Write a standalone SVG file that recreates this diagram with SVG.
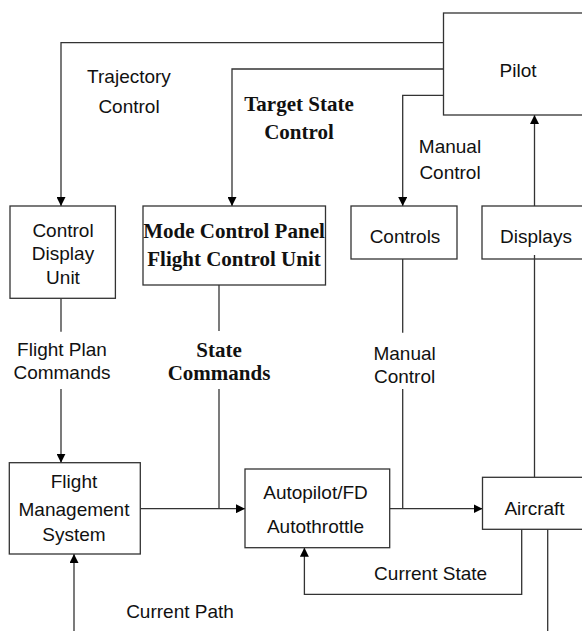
<svg xmlns="http://www.w3.org/2000/svg" width="582" height="631" viewBox="0 0 582 631">
<style>
.box{fill:#fff;stroke:#333;stroke-width:1.3}
.ln{fill:none;stroke:#333;stroke-width:1.3}
.t{font-family:"Liberation Sans","DejaVu Sans",sans-serif;font-size:19px;fill:#111;text-anchor:middle}
.b{font-family:"Liberation Serif","DejaVu Serif",serif;font-size:21px;font-weight:bold;fill:#111;text-anchor:middle}
</style>
<defs>
<marker id="ah" viewBox="0 0 10 10" refX="10" refY="5" markerWidth="9" markerHeight="9" markerUnits="userSpaceOnUse" orient="auto">
<path d="M0,0 L10,5 L0,10 z" fill="#000"/>
</marker>
</defs>
<g id="connectors">
<path class="ln" d="M443.5,42.7 H61 V206" marker-end="url(#ah)"/>
<path class="ln" d="M443.5,69 H232 V206" marker-end="url(#ah)"/>
<path class="ln" d="M443.5,95.3 H402.7 V206" marker-end="url(#ah)"/>
<path class="ln" d="M534.5,206 V115" marker-end="url(#ah)"/>
<path class="ln" d="M534.5,477.3 V255"/>
<path class="ln" d="M61,298.3 V331.7"/>
<path class="ln" d="M61,389 V462.7" marker-end="url(#ah)"/>
<path class="ln" d="M219,285 V331"/>
<path class="ln" d="M219,389 V508.7"/>
<path class="ln" d="M402.7,259 V332.7"/>
<path class="ln" d="M402.7,389 V508.7"/>
<path class="ln" d="M140.3,508.7 H245" marker-end="url(#ah)"/>
<path class="ln" d="M389.7,508.7 H482.5" marker-end="url(#ah)"/>
<path class="ln" d="M521.7,529.3 V594.3 H304.4 V547.7" marker-end="url(#ah)"/>
<path class="ln" d="M547.7,529.3 V632"/>
<path class="ln" d="M74,632 V554" marker-end="url(#ah)"/>
<text class="t" x="129" y="83">Trajectory</text>
<text class="t" x="129" y="113">Control</text>
<text class="b" x="299" y="110.5">Target State</text>
<text class="b" x="299" y="139">Control</text>
<text class="t" x="450" y="152.7">Manual</text>
<text class="t" x="450" y="179">Control</text>
<text class="t" x="62" y="355.7">Flight Plan</text>
<text class="t" x="62" y="379.3">Commands</text>
<text class="b" x="219" y="357.3">State</text>
<text class="b" x="219" y="380">Commands</text>
<text class="t" x="404.6" y="360">Manual</text>
<text class="t" x="404.6" y="382.7">Control</text>
<text class="t" x="430.6" y="580">Current State</text>
<text class="t" x="180" y="618.3">Current Path</text>
</g>
<g id="pilot">
<rect class="box" x="443.5" y="13" width="150" height="102"/>
<text class="t" x="518" y="77.3">Pilot</text>
</g>
<g id="cdu">
<rect class="box" x="10" y="206" width="105.4" height="92.3"/>
<text class="t" x="63" y="236.7">Control</text>
<text class="t" x="63" y="260">Display</text>
<text class="t" x="63" y="284.3">Unit</text>
</g>
<g id="mcp">
<rect class="box" x="143" y="206" width="182.5" height="79"/>
<text class="b" x="234" y="237.7">Mode Control Panel</text>
<text class="b" x="234" y="266">Flight Control Unit</text>
</g>
<g id="controls">
<rect class="box" x="351" y="206" width="106" height="53"/>
<text class="t" x="405" y="243.3">Controls</text>
</g>
<g id="displays">
<rect class="box" x="482" y="206" width="110" height="53"/>
<text class="t" x="536" y="243.3">Displays</text>
</g>
<path class="ln" d="M534.5,255 V259"/>
<g id="fms">
<rect class="box" x="9.3" y="462.7" width="131" height="91.3"/>
<text class="t" x="74" y="488.3">Flight</text>
<text class="t" x="74" y="516">Management</text>
<text class="t" x="74" y="540.7">System</text>
</g>
<g id="autopilot">
<rect class="box" x="245" y="469" width="144.7" height="78.7"/>
<text class="t" x="315.5" y="499.3">Autopilot/FD</text>
<text class="t" x="315.5" y="533.3">Autothrottle</text>
</g>
<g id="aircraft">
<rect class="box" x="482.5" y="477.3" width="110" height="52"/>
<text class="t" x="534.5" y="515">Aircraft</text>
</g>
</svg>
